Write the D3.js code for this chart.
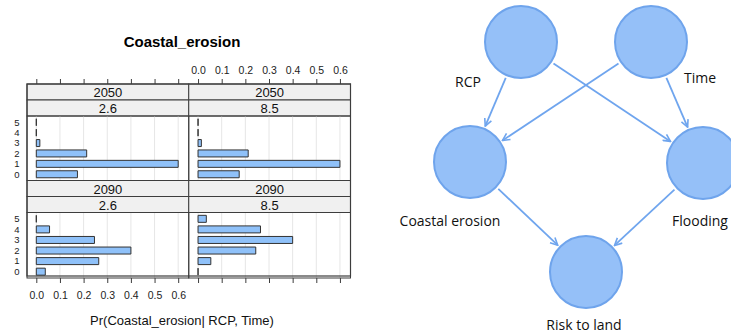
<!DOCTYPE html>
<html>
<head>
<meta charset="utf-8">
<script src="https://cdn.jsdelivr.net/npm/d3@7"></script>
<style>
  html, body { margin: 0; padding: 0; background: #fff; }
  svg { display: block; }
</style>
</head>
<body>
<svg id="fig" width="731" height="333"></svg>
<script>
// ---- conditional probability table: Pr(Coastal_erosion | RCP, Time) ----
const states = [0, 1, 2, 3, 4, 5];
const years = ["2050", "2090"];
const rcps = ["2.6", "8.5"];
const pr2050rcp26 = [0.174, 0.600, 0.213, 0.015, 0, 0];
const pr2050rcp85 = [0.174, 0.600, 0.212, 0.014, 0, 0];
const pr2090rcp26 = [0.038, 0.264, 0.400, 0.246, 0.056, 0];
const pr2090rcp85 = [0, 0.054, 0.244, 0.400, 0.264, 0.035];
const xTicks = [0, 0.1, 0.2, 0.3, 0.4, 0.5, 0.6];

// ---- Bayesian network structure ----
const nodeNames = ["RCP", "Time", "Coastal erosion", "Flooding", "Risk to land"];
const edges = [
  ["RCP", "Coastal erosion"],
  ["RCP", "Flooding"],
  ["Time", "Coastal erosion"],
  ["Time", "Flooding"],
  ["Coastal erosion", "Risk to land"],
  ["Flooding", "Risk to land"]
];

const svg = d3.select("#fig");
const chartFont = "'Liberation Sans', Arial, sans-serif";

// ================= trellis bar chart =================
const frame = { x0: 27, x1: 350.5, y0: 84, y1: 276 };
const colW = (frame.x1 - frame.x0) / 2;
const stripH = 16;
const rowTops = [84, 180.5];
const panelH = [64.5, 65.5];

const panels = [
  { year: years[0], rcp: rcps[0], values: pr2050rcp26, col: 0, row: 0 },
  { year: years[0], rcp: rcps[1], values: pr2050rcp85, col: 1, row: 0 },
  { year: years[1], rcp: rcps[0], values: pr2090rcp26, col: 0, row: 1 },
  { year: years[1], rcp: rcps[1], values: pr2090rcp85, col: 1, row: 1 }
];

const chart = svg.append("g").attr("font-family", chartFont);

chart.append("text")
  .attr("x", 182).attr("y", 47)
  .attr("text-anchor", "middle")
  .attr("font-size", 15).attr("font-weight", "bold")
  .attr("fill", "#000")
  .text("Coastal_erosion");

const lineCol = "#3d3d3d";

panels.forEach(p => {
  const gx = frame.x0 + p.col * colW;
  const top = rowTops[p.row];
  const pTop = top + 2 * stripH;
  const pH = panelH[p.row];
  const g = chart.append("g");

  const x = d3.scaleLinear().domain([0, 0.6]).range([gx + 9.3, gx + 151.2]);
  const y = d3.scalePoint().domain(states.slice().reverse())
    .range([pTop, pTop + pH]).padding(0.6);
  const bh = 7;

  // strips
  [p.year, p.rcp].forEach((lab, i) => {
    g.append("rect")
      .attr("x", gx).attr("y", top + i * stripH)
      .attr("width", colW).attr("height", stripH)
      .attr("fill", "#f0f0f0").attr("stroke", lineCol).attr("stroke-width", 1);
    g.append("text")
      .attr("x", gx + colW / 2).attr("y", top + i * stripH + 13)
      .attr("text-anchor", "middle").attr("font-size", 13).attr("fill", "#111")
      .text(lab);
  });

  // grid
  g.selectAll("line.grid").data(xTicks).join("line")
    .attr("class", "grid")
    .attr("x1", d => x(d)).attr("x2", d => x(d))
    .attr("y1", pTop).attr("y2", pTop + pH)
    .attr("stroke", "#e6e6e6").attr("stroke-width", 1);

  // bars
  g.selectAll("path.bar").data(states).join("path")
    .attr("class", "bar")
    .attr("d", s => {
      const x0 = x(0), x1 = x(p.values[s]);
      const yc = y(s);
      return `M${x0},${yc - bh / 2}H${x1}V${yc + bh / 2}H${x0}Z`;
    })
    .attr("fill", "#8fc1f9").attr("stroke", "#333").attr("stroke-width", 1);

  // panel border
  g.append("rect")
    .attr("x", gx).attr("y", pTop).attr("width", colW).attr("height", pH)
    .attr("fill", "none").attr("stroke", lineCol).attr("stroke-width", 1);

  // state labels on the left column
  if (p.col === 0) {
    g.selectAll("text.state").data(states).join("text")
      .attr("class", "state")
      .attr("x", 17).attr("y", s => y(s) + 3.4)
      .attr("text-anchor", "middle").attr("font-size", 9.5).attr("fill", "#222")
      .text(d => d);
  }

  // alternating axes: top row gets top ticks, bottom row gets bottom ticks
  if (p.row === 0) {
    const ax = g.append("g").attr("transform", `translate(0,${top})`)
      .call(d3.axisTop(x).tickValues(xTicks).tickSize(5).tickSizeOuter(0)
        .tickFormat(p.col === 1 ? d3.format(".1f") : () => ""));
    ax.select(".domain").remove();
    ax.selectAll("line").attr("stroke", lineCol);
    ax.selectAll("text").attr("font-size", 10.5).attr("fill", "#222")
      .attr("font-family", chartFont).attr("dy", "-0.2em");
  } else {
    const ax = g.append("g").attr("transform", `translate(0,${pTop + pH})`)
      .call(d3.axisBottom(x).tickValues(xTicks).tickSize(5).tickSizeOuter(0)
        .tickFormat(p.col === 0 ? d3.format(".1f") : () => ""));
    ax.select(".domain").remove();
    ax.selectAll("line").attr("stroke", lineCol);
    ax.selectAll("text").attr("font-size", 10.5).attr("fill", "#222")
      .attr("font-family", chartFont).attr("dy", "1.2em");
  }
});

chart.append("rect")
  .attr("x", frame.x0).attr("y", frame.y0)
  .attr("width", frame.x1 - frame.x0).attr("height", frame.y1 - frame.y0)
  .attr("fill", "none").attr("stroke", lineCol).attr("stroke-width", 1.2);

chart.append("text")
  .attr("x", 182).attr("y", 325)
  .attr("text-anchor", "middle").attr("font-size", 13).attr("fill", "#111")
  .text("Pr(Coastal_erosion| RCP, Time)");

// ================= network diagram =================
const layout = {
  "RCP":             { x: 521, y: 42,  lx: 468, ly: 87 },
  "Time":            { x: 651, y: 42,  lx: 700, ly: 83 },
  "Coastal erosion": { x: 470, y: 162, lx: 450, ly: 226 },
  "Flooding":        { x: 703, y: 163, lx: 700, ly: 226 },
  "Risk to land":    { x: 586, y: 272, lx: 584, ly: 330 }
};
const nodeR = 36;
const edgeCol = "#6fa5ee";

const defs = svg.append("defs");
defs.append("marker")
  .attr("id", "arrow")
  .attr("viewBox", "0 0 10 10")
  .attr("refX", 9).attr("refY", 5)
  .attr("markerWidth", 9).attr("markerHeight", 9)
  .attr("markerUnits", "userSpaceOnUse")
  .attr("orient", "auto")
  .append("path")
  .attr("d", "M1,1L9,5L1,9")
  .attr("fill", "none").attr("stroke", edgeCol).attr("stroke-width", 1.8);

const net = svg.append("g");

net.selectAll("line.edge").data(edges).join("line")
  .attr("class", "edge")
  .each(function ([a, b]) {
    const s = layout[a], t = layout[b];
    const dx = t.x - s.x, dy = t.y - s.y, len = Math.hypot(dx, dy);
    const ux = dx / len, uy = dy / len, gap = nodeR + 3;
    d3.select(this)
      .attr("x1", s.x + ux * gap).attr("y1", s.y + uy * gap)
      .attr("x2", t.x - ux * gap).attr("y2", t.y - uy * gap);
  })
  .attr("stroke", edgeCol).attr("stroke-width", 1.8)
  .attr("marker-end", "url(#arrow)");

net.selectAll("circle.node").data(nodeNames).join("circle")
  .attr("class", "node")
  .attr("cx", d => layout[d].x).attr("cy", d => layout[d].y).attr("r", nodeR)
  .attr("fill", "#95c0f8").attr("stroke", "#6fa4ec").attr("stroke-width", 2);

net.selectAll("text.nlabel").data(nodeNames).join("text")
  .attr("class", "nlabel")
  .attr("x", d => layout[d].lx).attr("y", d => layout[d].ly)
  .attr("text-anchor", "middle")
  .attr("font-family", "'Open Sans', Lato, sans-serif")
  .attr("font-size", 14).attr("fill", "#111")
  .text(d => d);
</script>
</body>
</html>
